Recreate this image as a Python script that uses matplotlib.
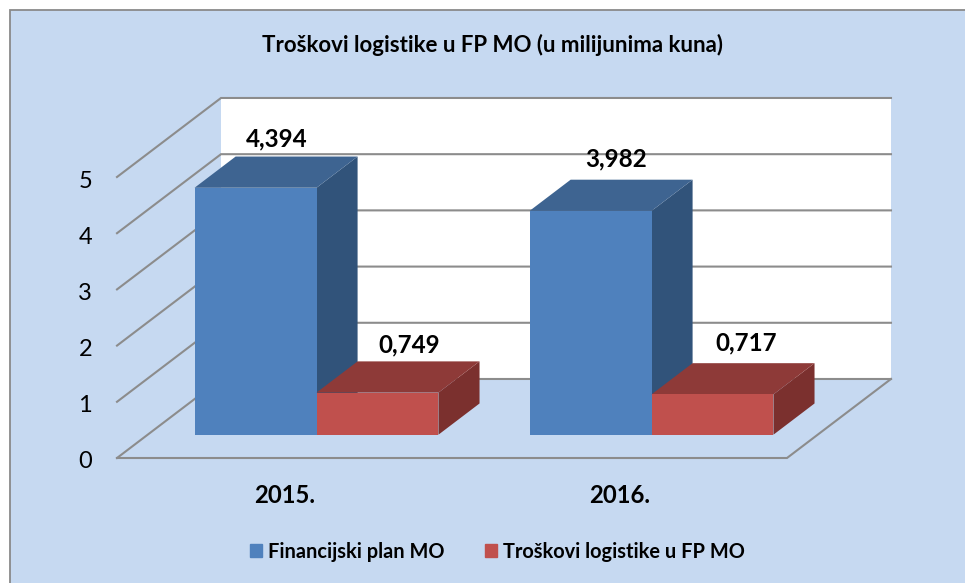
import matplotlib
matplotlib.use('Agg')
import matplotlib.pyplot as plt
from matplotlib.patches import Rectangle, Patch
from matplotlib.transforms import ScaledTranslation

plt.rcParams['font.family'] = ['Lato', 'DejaVu Sans']

years = ['2015.', '2016.']
fin_plan = [4.394, 3.982]
logistika = [0.749, 0.717]
fin_labels = ['4,394', '3,982']
log_labels = ['0,749', '0,717']
y_ticks = [0, 1, 2, 3, 4, 5]

title = 'Troškovi logistike u FP MO (u milijunima kuna)'
names = ['Financijski plan MO', 'Troškovi logistike u FP MO']

BG = '#c6d9f1'
GRID = '#8c8c8c'
BLUE = ('#4f81bd', '#3e6491', '#31537a')
RED = ('#c0504d', '#8e3a38', '#7b302e')

# fake 3d: one unit of depth shifts this much in data units
DX = 0.3104
DY = 1.406
BAR_W = 0.364
BAR_SHIFT = 0.004
D0, D1 = 0.295, 0.69


def proj(x, y, d):
    return x + d * DX, y + d * DY


def poly(ax, pts, color, z):
    xs = [p[0] for p in pts]
    ys = [p[1] for p in pts]
    ax.fill(xs, ys, color=color, lw=0, zorder=z, clip_on=False)


def bar3d(ax, x0, x1, h, cols, z):
    # side first, then top, front last
    poly(ax, [proj(x1, 0, D0), proj(x1, 0, D1), proj(x1, h, D1), proj(x1, h, D0)], cols[2], z)
    poly(ax, [proj(x0, h, D0), proj(x1, h, D0), proj(x1, h, D1), proj(x0, h, D1)], cols[1], z)
    poly(ax, [proj(x0, 0, D0), proj(x1, 0, D0), proj(x1, h, D0), proj(x0, h, D0)], cols[0], z)


def bar_label(ax, x, h, text, shift):
    # x from the front face, y from the back edge of the top
    ax.annotate(text, xy=(proj(x, 0, D0)[0], proj(0, h, D1)[1]), xytext=(shift[0] * 0.72, shift[1] * 0.72),
                textcoords='offset points', ha='center', va='center', fontsize=17.4, fontweight='bold',
                zorder=6, annotation_clip=False)


fig = plt.figure(figsize=(9.65, 5.83), dpi=100, facecolor='white')
fig.add_artist(Rectangle((9.5 / 965, -0.05), 1.05, (583 - 9.5) / 583 + 0.05, transform=fig.transFigure,
                         facecolor=BG, edgecolor='#8a8a8a', lw=1.3, zorder=-1))

ax = fig.add_axes([117 / 965, (583 - 458) / 583, 670 / 965, 281 / 583])
ax.set_xlim(-0.5, 1.5)
ax.set_ylim(0, 5)
ax.patch.set_alpha(0)
ax.set_frame_on(False)

# back wall
poly(ax, [proj(-0.5, 0, 1), proj(1.5, 0, 1), proj(1.5, 5, 1), proj(-0.5, 5, 1)], 'white', 1)

# gridlines on left wall and back wall
for t in y_ticks:
    xs, ys = zip(proj(-0.5, t, 0), proj(-0.5, t, 1), proj(1.5, t, 1))
    ax.plot(xs, ys, color=GRID, lw=1.5, zorder=2, clip_on=False, solid_joinstyle='miter')
# floor edges
xs, ys = zip(proj(-0.5, 0, 0), proj(1.5, 0, 0), proj(1.5, 0, 1))
ax.plot(xs, ys, color=GRID, lw=1.5, zorder=2, clip_on=False, solid_joinstyle='miter')

# label offsets in px from the anchor, blue / red per year
fin_shift = [(21, 18), (26, 21)]
log_shift = [(32, 16), (34, 20)]
for i in range(len(years)):
    c = i + BAR_SHIFT
    bar3d(ax, c - BAR_W, c, fin_plan[i], BLUE, 3)
    bar3d(ax, c, c + BAR_W, logistika[i], RED, 4)
    bar_label(ax, c - BAR_W / 2, fin_plan[i], fin_labels[i], fin_shift[i])
    bar_label(ax, c + BAR_W / 2, logistika[i], log_labels[i], log_shift[i])

ax.set_yticks(y_ticks)
ax.set_yticklabels([str(t) for t in y_ticks], fontsize=17)
ax.set_xticks(range(len(years)))
ax.set_xticklabels(years, fontsize=17.2, fontweight='bold')
ax.tick_params(axis='both', length=0)
ax.tick_params(axis='y', pad=18)
ax.tick_params(axis='x', pad=18.5)
down = ScaledTranslation(0, -0.02, fig.dpi_scale_trans)
for lab in ax.get_yticklabels():
    lab.set_transform(lab.get_transform() + down)

fig.text(492 / 965, 1 - 45 / 583, title, ha='center', va='center', fontsize=16, fontweight='bold')

handles = [Patch(color=BLUE[0]), Patch(color=RED[0])]
fig.legend(handles, names, loc='center', bbox_to_anchor=(497.5 / 965, 1 - 551.5 / 583), ncol=2, frameon=False,
           prop={'size': 14.4, 'weight': 'bold'}, handlelength=0.6, handleheight=0.56, handletextpad=0.3,
           columnspacing=2.0)

fig.savefig('out.png', dpi=100)
